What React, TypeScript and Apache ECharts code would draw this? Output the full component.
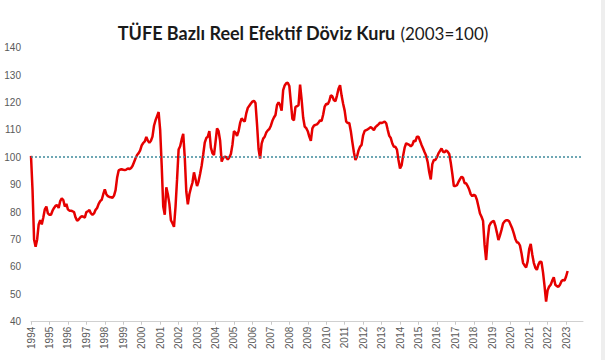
import React, { useEffect, useRef } from "react";
import * as echarts from "echarts";

const years: number[] = [];
for (let y = 1994; y <= 2023; y++) years.push(y);

const months: string[] = [];
years.forEach((y) => {
  for (let m = 1; m <= 12; m++) months.push(`${y}-${m < 10 ? "0" + m : m}`);
});

const v1994 = [100.5, 88, 70, 67.3, 70, 75.5, 77, 75.5, 78, 81, 82, 79.5];
const v1995 = [79, 79, 80.5, 81.5, 82.3, 82.5, 81.5, 84, 85, 84.4, 82, 83];
const v1996 = [81, 80.5, 80.5, 80.3, 80, 78, 76.8, 77.3, 78, 78.5, 78.3, 78];
const v1997 = [80, 80.3, 80.7, 79.5, 79, 79.5, 80.8, 81.5, 83, 84, 84.5, 86.5];
const v1998 = [88.3, 86.5, 85.8, 85.5, 85.4, 85.2, 86, 88, 92.5, 95.2, 95.5, 95.6];
const v1999 = [95.4, 95.3, 95.5, 95.9, 95.7, 96, 96.8, 98.2, 99.6, 100.8, 101.5, 102.5];
const v2000 = [104.3, 105.2, 105.8, 107.4, 106, 105.3, 106, 107.5, 111.5, 113.5, 115, 116.5];
const v2001 = [110, 97, 82, 79, 89, 86.5, 83, 77, 75.9, 74.6, 82, 92];
const v2002 = [102.8, 104, 106.5, 108.5, 100, 87.5, 82.8, 86.5, 88.8, 90.7, 94.5, 92];
const v2003 = [89.5, 91.2, 94, 97, 101, 105.3, 107, 107.5, 109.5, 103.5, 101.5, 100.8];
const v2004 = [105.5, 110.5, 109.5, 106, 98.4, 99.8, 100.2, 100, 99.2, 100, 101.2, 104.5];
const v2005 = [109.5, 109, 107.8, 109.5, 112.5, 114.2, 113.5, 113, 116, 118, 118.8, 119.6];
const v2006 = [120.3, 120.6, 119.8, 112, 103, 99.5, 105, 106.8, 107.5, 109, 109.8, 110.3];
const v2007 = [111.5, 113.3, 114.5, 115.4, 119, 120, 119, 117, 124.5, 126.2, 127, 127.2];
const v2008 = [126, 120, 114, 113.5, 118.4, 118.6, 119, 126.5, 121, 114.5, 111.2, 110.6];
const v2009 = [109.5, 107.5, 106, 110.5, 111.5, 111.8, 112, 112.6, 113.5, 113.2, 115.5, 118.5];
const v2010 = [119.5, 119.3, 120.5, 122.6, 122.2, 120.8, 120.5, 122.5, 125, 126.3, 122.5, 119.5];
const v2011 = [117, 113, 112.5, 112.5, 109.5, 105.5, 101.8, 99, 100.2, 102.5, 103.8, 104.5];
const v2012 = [108, 109.6, 109.9, 110.2, 110.6, 111, 110.5, 109.9, 111, 111.5, 112, 112.6];
const v2013 = [112.5, 112.7, 113, 112.4, 110, 107.8, 107, 105, 103.8, 103.8, 102.8, 99];
const v2014 = [95.9, 97, 100.5, 103.5, 105.1, 104.8, 104.5, 104, 104.5, 106, 105.8, 107.5];
const v2015 = [107.5, 106, 104.5, 103.2, 101.8, 100.5, 98.2, 94.5, 91.9, 97.5, 99, 99];
const v2016 = [100, 101.4, 102.3, 103.2, 102, 101.8, 102.5, 102, 101.2, 98, 94, 89.5];
const v2017 = [89.5, 89.8, 91, 92, 92.9, 92.5, 90.5, 90.5, 89.5, 88.2, 86.5, 85.8];
const v2018 = [86.3, 86, 84.5, 82, 79.5, 78.3, 76.8, 68, 62.5, 70, 75, 76];
const v2019 = [76.5, 76.8, 75, 72.5, 69.8, 71.5, 73.5, 75.8, 76.6, 77, 77, 76.6];
const v2020 = [75.3, 74, 72.2, 70.2, 69, 68.8, 67.8, 65, 61.5, 60.5, 59.8, 62];
const v2021 = [66.5, 68.4, 64.5, 61.5, 59.7, 58.9, 60.8, 61.9, 61.8, 58, 53, 47.3];
const v2022 = [51.5, 52.8, 53.5, 55, 56.2, 53.5, 53, 52.7, 53.5, 54.8, 55.2, 55];
const v2023 = [56.5, 58.5];

const values: number[] = [
  ...v1994, ...v1995, ...v1996, ...v1997, ...v1998, ...v1999, ...v2000,
  ...v2001, ...v2002, ...v2003, ...v2004, ...v2005, ...v2006, ...v2007,
  ...v2008, ...v2009, ...v2010, ...v2011, ...v2012, ...v2013, ...v2014,
  ...v2015, ...v2016, ...v2017, ...v2018, ...v2019, ...v2020, ...v2021,
  ...v2022, ...v2023,
];

const referenceLevel = 100;
const titleBold = "TÜFE Bazlı Reel Efektif Döviz Kuru";
const titleNormal = "(2003=100)";

export default function App() {
  const ref = useRef<HTMLDivElement>(null);
  useEffect(() => {
    if (!ref.current) return;
    const chart = echarts.init(ref.current, undefined, { renderer: "svg" });
    chart.setOption({
      animation: false,
      backgroundColor: "#ffffff",
      title: {
        text: `{b|${titleBold}} {n|${titleNormal}}`,
        left: 298,
        textAlign: "center",
        top: 19,
        textStyle: {
          rich: {
            b: { fontFamily: "Lato", fontWeight: "bold", fontSize: 18, color: "#1a1a1a" },
            n: { fontFamily: "Lato", fontWeight: "normal", fontSize: 17, color: "#1a1a1a" },
          },
        },
      },
      graphic: [
        {
          type: "rect",
          right: 0,
          top: 0,
          shape: { width: 4, height: 360 },
          style: { fill: "#eeeeee" },
        },
      ],
      grid: { left: 31, right: 22, top: 47.6, bottom: 38.3, containLabel: false },
      xAxis: {
        type: "category",
        data: months,
        boundaryGap: false,
        axisLine: { lineStyle: { color: "#d0d0d0", width: 1 } },
        axisTick: {
          show: true,
          interval: (i: number) => i % 12 === 0,
          length: 3,
          lineStyle: { color: "#c8c8c8" },
        },
        axisLabel: {
          interval: (i: number) => i % 12 === 0,
          formatter: (v: string) => v.slice(0, 4),
          rotate: 90,
          margin: 5,
          fontSize: 10,
          fontFamily: "Liberation Sans",
          color: "#595959",
        },
        splitLine: { show: false },
      },
      yAxis: {
        type: "value",
        min: 40,
        max: 140,
        interval: 10,
        axisLine: { show: false },
        axisTick: { show: false },
        splitLine: { show: false },
        axisLabel: {
          fontSize: 10,
          fontFamily: "Liberation Sans",
          color: "#595959",
          margin: 10,
        },
      },
      series: [
        {
          type: "line",
          data: values,
          showSymbol: false,
          symbol: "none",
          lineStyle: { color: "#e60000", width: 2.5 },
          markLine: {
            silent: true,
            symbol: "none",
            label: { show: false },
            lineStyle: { color: "#3f8a9c", type: [2, 2], width: 1.5 },
            data: [{ yAxis: referenceLevel }],
          },
        },
      ],
    });
    return () => chart.dispose();
  }, []);
  return (
    <div
      ref={ref}
      style={{ position: "fixed", left: 0, top: 0, width: 605, height: 360 }}
    />
  );
}
